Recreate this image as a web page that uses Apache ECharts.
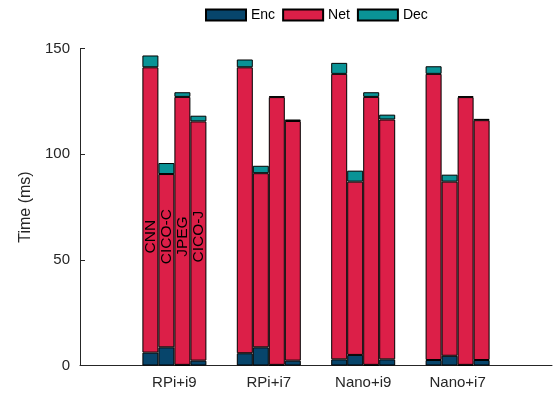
<!DOCTYPE html>
<html>
<head>
<meta charset="utf-8">
<script src="https://cdn.jsdelivr.net/npm/echarts@6/dist/echarts.min.js"></script>
<style>html,body{margin:0;padding:0;background:#fff}#c{width:555px;height:395px}</style>
</head>
<body>
<div id="c"></div>
<script>
const groups = ['RPi+i9', 'RPi+i7', 'Nano+i9', 'Nano+i7'];
const methods = ['CNN', 'CICO-C', 'JPEG', 'CICO-J'];
const components = ['Enc', 'Net', 'Dec'];
const yTicks = [0, 50, 100, 150];

// values per method, across groups [RPi+i9, RPi+i7, Nano+i9, Nano+i7]
const encCNN   = [6.1, 5.8, 2.9, 2.6];
const encCICOC = [8.6, 8.6, 5.0, 4.6];
const encJPEG  = [0.3, 0.3, 0.3, 0.3];
const encCICOJ = [2.3, 2.3, 2.9, 2.6];

const netCNN   = [135.0, 135.3, 135.1, 135.4];
const netCICOC = [82.0, 82.4, 82.0, 82.4];
const netJPEG  = [126.8, 126.7, 126.8, 126.7];
const netCICOJ = [113.2, 113.4, 113.5, 113.5];

const decCNN   = [5.6, 3.7, 5.2, 3.6];
const decCICOC = [5.2, 3.5, 5.2, 3.3];
const decJPEG  = [2.2, 0.4, 2.2, 0.4];
const decCICOJ = [2.7, 0.7, 2.3, 0.6];

const labelValue = 61; // height (ms) where rotated method labels sit in the first group

const valuesByMethod = [
  [encCNN, netCNN, decCNN],
  [encCICOC, netCICOC, decCICOC],
  [encJPEG, netJPEG, decJPEG],
  [encCICOJ, netCICOJ, decCICOJ]
];
const colors = {Enc: '#07456b', Net: '#dc1f48', Dec: '#0a9396'};

const cats = [''].concat(groups, ['']);
const series = [];
methods.forEach((m, mi) => {
  components.forEach((c, ci) => {
    const s = {
      name: c,
      type: 'bar',
      stack: m,
      barWidth: 16,
      barGap: '0%',
      itemStyle: {color: colors[c], borderColor: '#000', borderWidth: 1},
      emphasis: {disabled: true},
      data: ['-'].concat(valuesByMethod[mi][ci], ['-'])
    };
    if (c === 'Net') {
      s.markPoint = {
        symbol: 'rect',
        symbolSize: 1,
        itemStyle: {color: 'rgba(0,0,0,0)'},
        label: {
          show: true, position: 'inside', rotate: 90,
          formatter: m, color: '#000', fontSize: 15.5,
          fontFamily: 'Liberation Sans'
        },
        data: [{coord: [groups[0], labelValue]}]
      };
    }
    series.push(s);
  });
});

const chart = echarts.init(document.getElementById('c'), null, {renderer: 'canvas'});
chart.setOption({
  animation: false,
  textStyle: {fontFamily: 'Liberation Sans'},
  legend: {
    data: components,
    left: 205, top: 8, padding: 0,
    itemWidth: 40, itemHeight: 11, itemGap: 7,
    icon: 'rect',
    textStyle: {fontSize: 14, color: '#000', fontFamily: 'Liberation Sans'}
  },
  grid: {left: 80, right: 0, top: 48.5, bottom: 29.5, containLabel: false},
  xAxis: {
    type: 'category',
    data: cats,
    boundaryGap: false,
    axisLine: {lineStyle: {color: '#262626', width: 1}},
    axisTick: {show: false},
    axisLabel: {fontSize: 15, color: '#262626', margin: 10, interval: 0},
    splitLine: {show: false}
  },
  yAxis: {
    type: 'value',
    min: yTicks[0], max: yTicks[yTicks.length - 1], interval: 50,
    name: 'Time (ms)',
    nameLocation: 'middle',
    nameGap: 42,
    nameTextStyle: {fontSize: 16, color: '#262626'},
    axisLine: {show: true, lineStyle: {color: '#262626', width: 1}},
    axisTick: {show: true, inside: true, length: 5, lineStyle: {color: '#262626'}},
    axisLabel: {fontSize: 15, color: '#262626', margin: 10},
    splitLine: {show: false}
  },
  series: series
});
</script>
</body>
</html>
